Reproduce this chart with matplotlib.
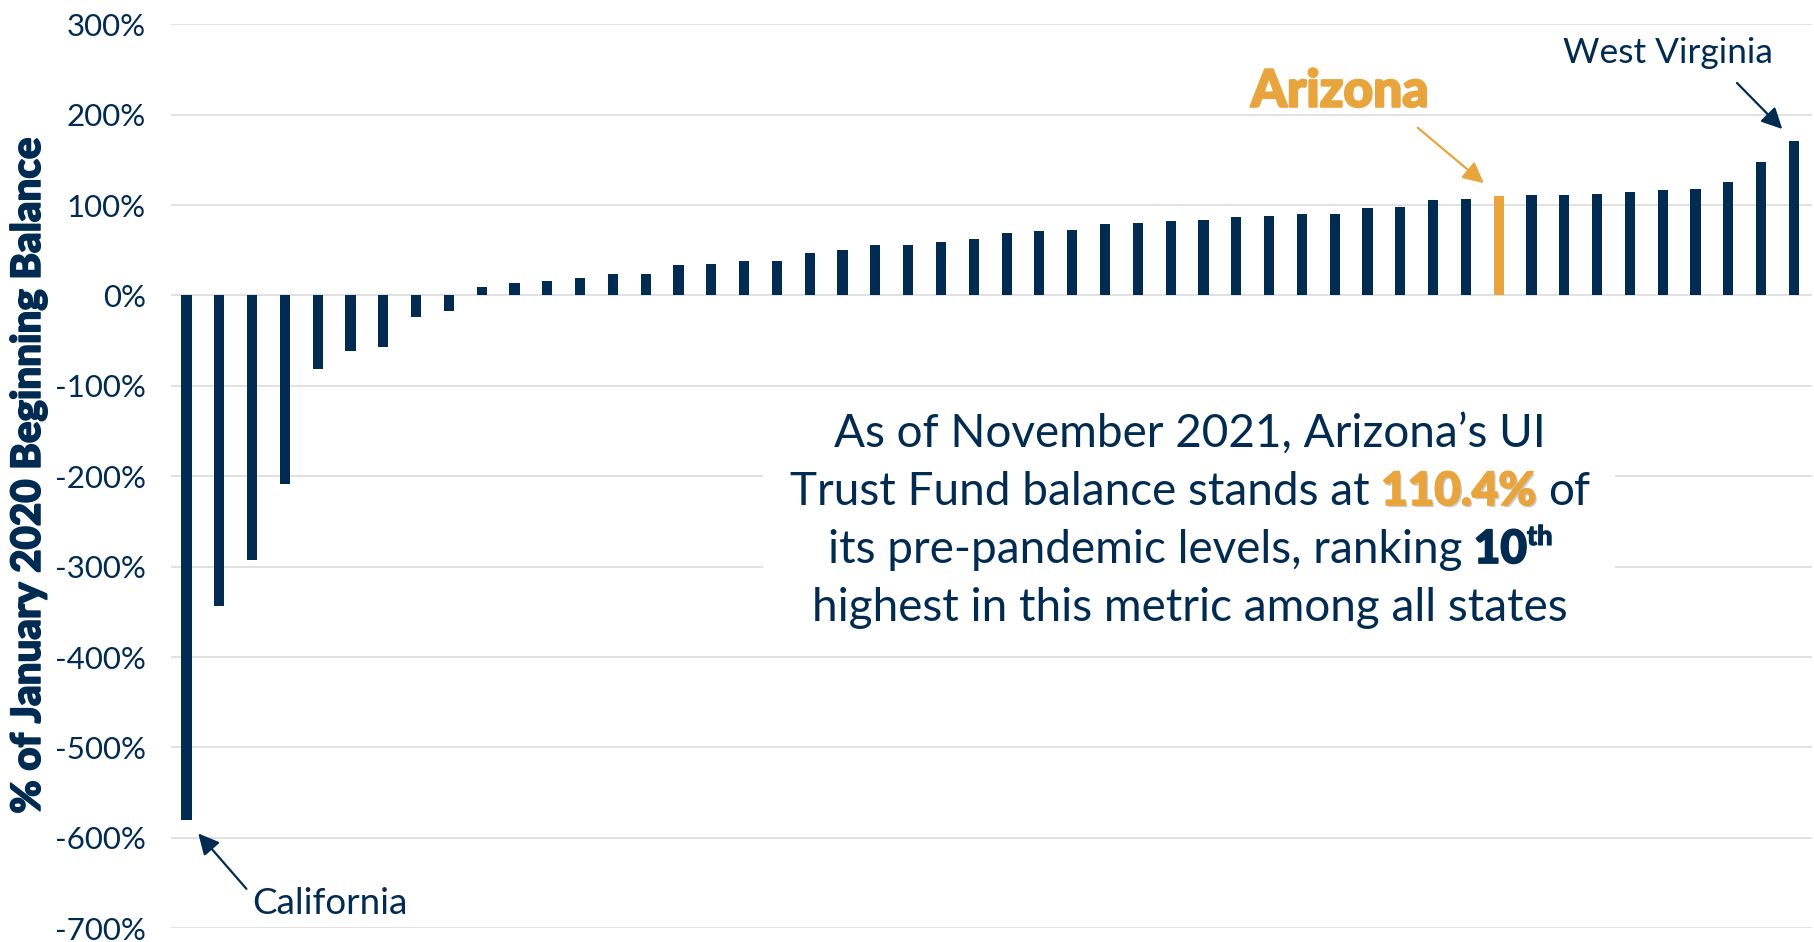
import matplotlib.pyplot as plt
import matplotlib.patheffects as pe
from matplotlib.patches import Rectangle
from matplotlib.transforms import IdentityTransform

plt.rcParams['font.family'] = ['Lato', 'DejaVu Sans']

NAVY = '#022b52'
ORANGE = '#e8a53e'
GRID = '#d9d9d9'

# % of January 2020 beginning balance, states sorted low -> high
values = [-580, -343, -293, -208, -81, -61, -57, -24, -17,
          9, 14, 16, 19, 24, 24, 34, 35, 38, 38, 47,
          50, 56, 56, 59, 63, 69, 71, 73, 79, 80,
          82, 84, 87, 88, 90, 90, 97, 98, 106, 107,
          110.4, 111, 111, 112, 115, 117, 118, 125, 148, 171]
highlight = 40          # Arizona
lowest, highest = 0, len(values) - 1   # California, West Virginia
yticks = list(range(-700, 301, 100))

W, H = 1815, 942
fig = plt.figure(figsize=(W / 100, H / 100), dpi=100)
ax = fig.add_axes([171 / W, 1 - 928.3 / H, (1812 - 171) / W, (928.3 - 24.3) / H])

colors = [ORANGE if i == highlight else NAVY for i in range(len(values))]
ax.bar(range(len(values)), values, width=0.31, color=colors, zorder=2)

ax.set_ylim(-700, 300)
ax.set_xlim(-0.47, 49.55)
ax.set_yticks(yticks)
ax.set_yticklabels([f'{v}%' for v in yticks])
ax.set_xticks([])
ax.tick_params(axis='y', length=0, pad=18, labelsize=22.5, labelcolor=NAVY)
ax.grid(axis='y', color=GRID, lw=1.1, zorder=0)
ax.set_axisbelow(True)
for s in ax.spines.values():
    s.set_visible(False)

heavy = lambda c, w=1.2: [pe.withStroke(linewidth=w, foreground=c)]

ax.set_ylabel('% of January 2020 Beginning Balance', fontsize=29,
              fontweight='black', color=NAVY, path_effects=heavy(NAVY))
ax.yaxis.set_label_coords(-0.0753, 0.5)

arrow = dict(arrowstyle='-|>,head_length=0.9,head_width=0.45', lw=1.6,
             mutation_scale=14, shrinkA=0)

# callouts, tied to the bar tips
ax.annotate('', xy=(lowest, values[lowest]), xytext=(60, -69),
            textcoords='offset pixels',
            arrowprops=dict(arrow, color=NAVY, shrinkB=13))
ax.annotate('California', xy=(lowest, values[lowest]), xytext=(66, -94),
            textcoords='offset pixels', ha='left', va='baseline',
            fontsize=26.5, color=NAVY)

ax.annotate('', xy=(highlight, values[highlight]), xytext=(-81, 68),
            textcoords='offset pixels',
            arrowprops=dict(arrow, color=ORANGE, shrinkB=14))
ax.annotate('Arizona', xy=(highlight, values[highlight]), xytext=(-159, 89),
            textcoords='offset pixels', ha='center', va='baseline',
            fontsize=37, fontweight='black', color=ORANGE,
            path_effects=heavy(ORANGE, 1.6))

ax.annotate('', xy=(highest, values[highest]), xytext=(-57, 58),
            textcoords='offset pixels',
            arrowprops=dict(arrow, color=NAVY, shrinkB=12))
ax.annotate('West Virginia', xy=(highest, values[highest]), xytext=(-126, 78),
            textcoords='offset pixels', ha='center', va='baseline',
            fontsize=25.4, color=NAVY)

# white panel behind the note
fig.patches.append(Rectangle((763 / W, 1 - 630 / H), 852 / W, 210 / H,
                             transform=fig.transFigure, facecolor='white',
                             edgecolor='none', zorder=1))

renderer = fig.canvas.get_renderer()
reg = dict(fontsize=33, color=NAVY)
big = dict(fontsize=33, color=ORANGE, fontweight='black',
           path_effects=[pe.SimplePatchShadow(offset=(1.5, -1.5), shadow_rgbFace='#999999', alpha=0.5),
                         pe.withStroke(linewidth=1.3, foreground=ORANGE)])
bold = dict(fontsize=33, color=NAVY, fontweight='black', path_effects=heavy(NAVY, 1.3))
sup = dict(fontsize=19.5, color=NAVY, fontweight='black', path_effects=heavy(NAVY, 0.8))

note = [
    [("As of November 2021, Arizona’s UI", reg, True, 0)],
    [("Trust Fund balance stands at", reg, True, 0), ("110.4%", big, True, 0),
     ("of", reg, True, 0)],
    [("its pre-pandemic levels, ranking", reg, True, 0), ("10", bold, True, 0),
     ("th", sup, False, 18)],
    [("highest in this metric among all states", reg, True, 0)],
]
baselines = [447, 505, 563, 621]
cx = 1190


def width_of(s, kw):
    t = fig.text(0, 0, s, transform=IdentityTransform(), **kw)
    w = t.get_window_extent(renderer).width
    t.remove()
    return w


space = width_of('a a', reg) - width_of('aa', reg)

for line, yb in zip(note, baselines):
    parts = []
    total = 0
    for k, (s, kw, gap, dy) in enumerate(line):
        w = width_of(s, kw)
        g = space if (gap and k > 0) else 0
        parts.append((s, kw, total + g, dy))
        total += g + w
    x0 = cx - total / 2
    for s, kw, off, dy in parts:
        fig.text(x0 + off, H - yb + dy, s, transform=IdentityTransform(),
                 ha='left', va='baseline', **kw)

fig.savefig('out.png', dpi=100)
